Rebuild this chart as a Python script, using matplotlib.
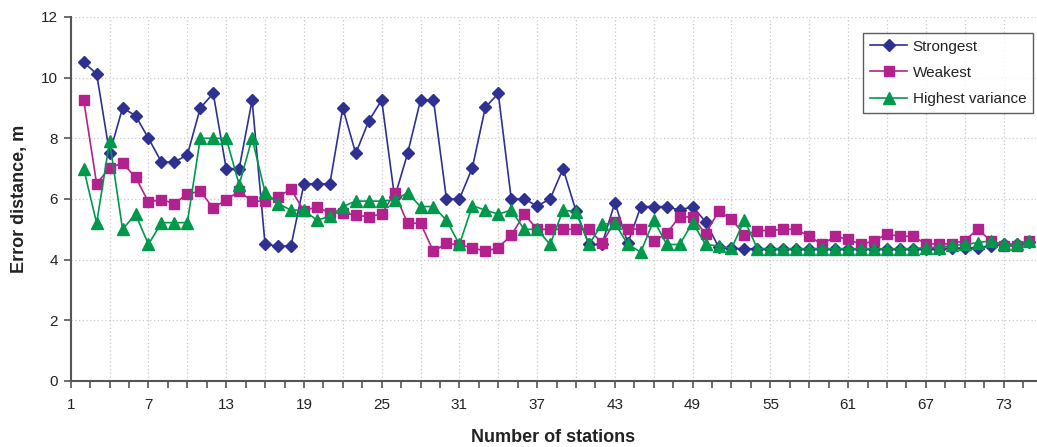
import numpy as np
import matplotlib
matplotlib.use("Agg")
import matplotlib.pyplot as plt
from matplotlib.ticker import FixedLocator, FuncFormatter

plt.rcParams['font.family'] = ['Liberation Sans', 'DejaVu Sans']

stations = list(range(2, 76))

strongest = [10.5, 10.13, 7.5, 9.0, 8.75, 8.0, 7.22, 7.22, 7.45, 9.0,
             9.48, 7.0, 7.0, 9.26, 4.5, 4.45, 4.45, 6.5, 6.5, 6.5,
             9.0, 7.5, 8.57, 9.26, 6.05, 7.5, 9.26, 9.26, 6.0, 6.0,
             7.03, 9.02, 9.48, 6.0, 6.0, 5.77, 6.0, 7.0, 5.6, 4.5,
             4.5, 5.88, 4.54, 5.75, 5.75, 5.75, 5.63, 5.75, 5.25, 4.42,
             4.37, 4.36, 4.36, 4.36, 4.36, 4.36, 4.36, 4.36, 4.36, 4.36,
             4.36, 4.36, 4.36, 4.36, 4.36, 4.36, 4.36, 4.38, 4.38, 4.4,
             4.45, 4.5, 4.5, 4.58]

weakest = [9.26, 6.5, 7.03, 7.18, 6.72, 5.9, 5.98, 5.85, 6.17, 6.25,
           5.7, 5.98, 6.25, 5.93, 5.93, 6.08, 6.32, 5.6, 5.75, 5.53,
           5.55, 5.46, 5.42, 5.5, 6.2, 5.2, 5.2, 4.27, 4.54, 4.48,
           4.4, 4.27, 4.4, 4.8, 5.5, 5.0, 5.0, 5.0, 5.0, 5.0,
           4.55, 5.24, 5.02, 5.0, 4.6, 4.87, 5.42, 5.4, 4.85, 5.6,
           5.33, 4.82, 4.96, 4.96, 5.0, 5.0, 4.77, 4.5, 4.77, 4.67,
           4.5, 4.62, 4.84, 4.77, 4.77, 4.52, 4.52, 4.52, 4.63, 5.0,
           4.63, 4.45, 4.45, 4.63]

highest_variance = [7.0, 5.2, 7.9, 5.0, 5.5, 4.5, 5.22, 5.22, 5.22, 8.0,
                    8.0, 8.0, 6.47, 8.0, 6.22, 5.85, 5.63, 5.63, 5.3, 5.43,
                    5.75, 5.93, 5.93, 5.93, 5.97, 6.2, 5.75, 5.75, 5.3, 4.5,
                    5.78, 5.63, 5.5, 5.63, 5.0, 5.0, 4.5, 5.63, 5.58, 4.5,
                    5.17, 5.2, 4.5, 4.25, 5.3, 4.5, 4.5, 5.22, 4.5, 4.45,
                    4.37, 5.3, 4.36, 4.36, 4.36, 4.36, 4.36, 4.36, 4.36, 4.36,
                    4.36, 4.36, 4.36, 4.36, 4.36, 4.4, 4.4, 4.47, 4.5, 4.56,
                    4.62, 4.5, 4.5, 4.6]

series_names = ["Strongest", "Weakest", "Highest variance"]
x_tick_labels = [str(v) for v in range(1, 76, 6)]

fig = plt.figure(figsize=(10.37, 4.47), dpi=100)
ax = fig.add_axes([0.0682, 0.1477, 0.9308, 0.8143])

ax.plot(stations, strongest, color="#2E3192", lw=1.2, marker="D", ms=6.2,
        label=series_names[0], zorder=3)
ax.plot(stations, weakest, color="#B3218F", lw=1.2, marker="s", ms=7.5,
        label=series_names[1], zorder=4)
ax.plot(stations, highest_variance, color="#00984A", lw=1.2, marker="^", ms=8.5,
        label=series_names[2], zorder=5)

ax.set_xlim(1, 75.5)
ax.set_ylim(0, 12)

major = np.arange(1, 76, 3)
ax.xaxis.set_major_locator(FixedLocator(major))
ax.xaxis.set_minor_locator(FixedLocator(np.arange(2.5, 76, 3)))
ax.xaxis.set_major_formatter(FuncFormatter(
    lambda v, p: str(int(round(v))) if str(int(round(v))) in x_tick_labels else ""))
ax.set_yticks(np.arange(0, 13, 2))

spine_col = "#555555"
for s in ["top", "right"]:
    ax.spines[s].set_visible(False)
for s in ["left", "bottom"]:
    ax.spines[s].set_color(spine_col)
    ax.spines[s].set_linewidth(1.5)

ax.tick_params(axis="x", which="both", direction="out", length=5, width=1.2,
               color=spine_col, labelsize=11, pad=7, labelcolor="#222222")
ax.tick_params(axis="y", which="major", direction="out", length=5, width=1.2,
               color=spine_col, labelsize=11, pad=4, labelcolor="#222222")

ax.grid(True, which="major", color="#c8c8c8", linestyle=(0, (1, 2)), linewidth=0.9)
ax.set_axisbelow(True)

ax.set_xlabel("Number of stations", fontsize=13, fontweight="bold", color="#222222")
ax.set_ylabel("Error distance, m", fontsize=13, fontweight="bold", color="#222222")
ax.xaxis.set_label_coords(0.5, -0.132)
ax.yaxis.set_label_coords(-0.044, 0.5)

leg = ax.legend(loc="upper right", bbox_to_anchor=(0.997, 0.957), borderaxespad=0,
                fontsize=11, frameon=True, fancybox=False, handlelength=2.45,
                labelspacing=0.8, borderpad=0.45, handletextpad=0.35)
leg.get_frame().set_edgecolor("#333333")
leg.get_frame().set_linewidth(1.0)
for t in leg.get_texts():
    t.set_color("#222222")

fig.savefig("out.png", dpi=100)
